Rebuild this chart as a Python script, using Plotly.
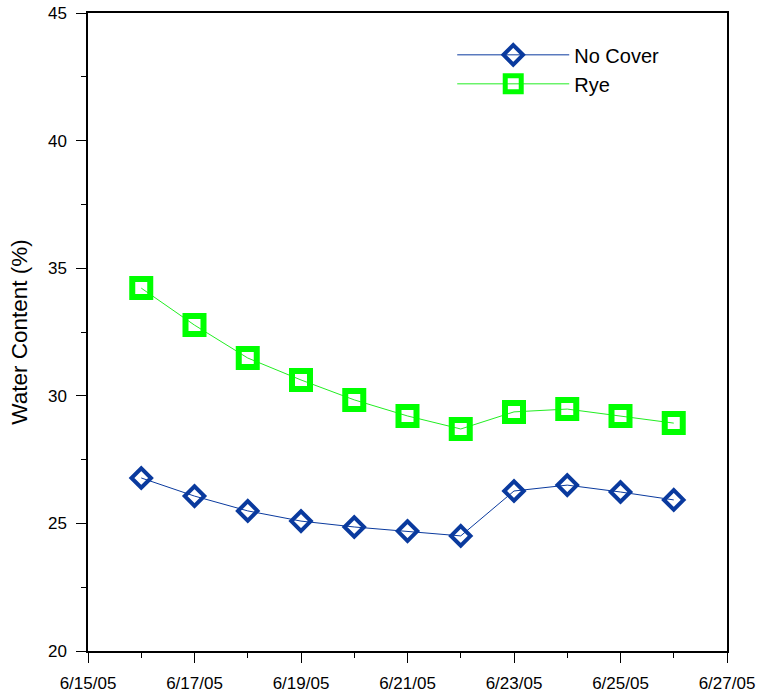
import plotly.graph_objects as go

dates = ["2005-06-16", "2005-06-17", "2005-06-18", "2005-06-19", "2005-06-20", "2005-06-21",
         "2005-06-22", "2005-06-23", "2005-06-24", "2005-06-25", "2005-06-26"]
no_cover = [26.78, 26.07, 25.49, 25.09, 24.86, 24.70, 24.51, 26.27, 26.50, 26.23, 25.92]
rye = [34.22, 32.77, 31.48, 30.62, 29.84, 29.21, 28.70, 29.37, 29.48, 29.21, 28.93]

fig = go.Figure()
fig.add_trace(go.Scatter(
    x=dates, y=no_cover, name="No Cover", mode="lines+markers",
    line=dict(color="#0A3A9E", width=1),
    marker=dict(symbol="diamond-open", size=15, color="#0A3A9E", line=dict(width=4, color="#0A3A9E")),
))
fig.add_trace(go.Scatter(
    x=dates, y=rye, name="Rye", mode="lines+markers",
    line=dict(color="#22EE22", width=1),
    marker=dict(symbol="square-open", size=18, color="#00FF00", line=dict(width=6, color="#00FF00")),
))

fig.update_layout(
    width=760, height=696,
    margin=dict(l=88, r=33, t=13, b=45, autoexpand=False),
    paper_bgcolor="white", plot_bgcolor="white",
    font=dict(family="Liberation Sans, Arial", size=17, color="black"),
    showlegend=True,
    legend=dict(x=0.57, y=0.965, xanchor="left", yanchor="top", bgcolor="rgba(0,0,0,0)",
                font=dict(size=20), itemwidth=112, tracegroupgap=0),
)
fig.update_xaxes(
    type="date", range=["2005-06-15", "2005-06-27"], automargin=False,
    dtick=2 * 86400000, tick0="2005-06-15", tickformat="%-m/%-d/%y",
    ticklabeloverflow="allow", ticklabelstandoff=6,
    showline=True, linecolor="black", linewidth=1.5, mirror=True,
    ticks="outside", ticklen=10, tickcolor="black", tickwidth=1,
    minor=dict(dtick=86400000, ticks="outside", ticklen=5, tickcolor="black", showgrid=False),
    showgrid=False, zeroline=False,
)
fig.update_yaxes(
    range=[20, 45], dtick=5, tick0=20, automargin=False,
    ticklabeloverflow="allow", ticklabelstandoff=6,
    showline=True, linecolor="black", linewidth=1.5, mirror=True,
    ticks="outside", ticklen=10, tickcolor="black", tickwidth=1,
    minor=dict(dtick=2.5, ticks="outside", ticklen=5, tickcolor="black", showgrid=False),
    showgrid=False, zeroline=False,
    title=dict(text="Water Content (%)", font=dict(size=22.5), standoff=14),
)

fig.write_html("out.html", config={"displayModeBar": False},
               post_script="document.body.style.margin='0px';document.body.style.overflow='hidden';")
